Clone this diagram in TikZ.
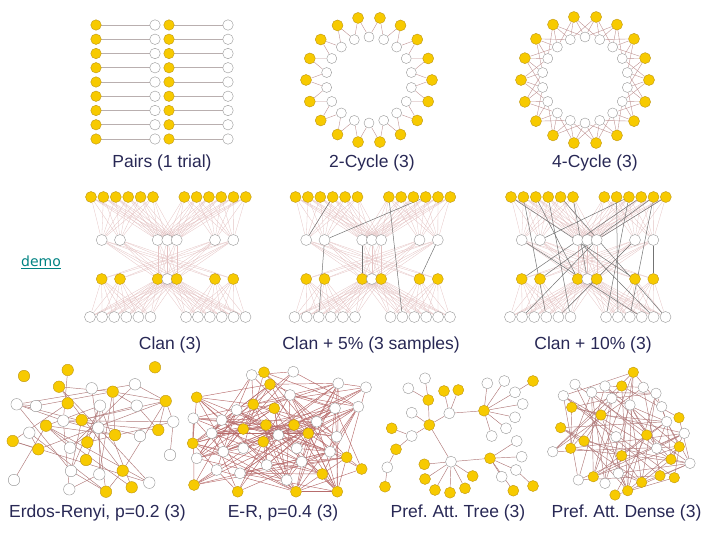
\documentclass[tikz,border=0pt]{standalone}
\usepackage{fontspec}
\setmainfont{Liberation Sans}
\newfontfamily\demofont{DejaVu Sans}
\frenchspacing

\definecolor{yelfill}{RGB}{247,202,0}
\definecolor{yelline}{RGB}{190,150,20}
\definecolor{whtline}{RGB}{150,150,150}
\definecolor{edgecol}{RGB}{175,120,120}
\definecolor{clancol}{RGB}{228,195,195}
\definecolor{pairline}{RGB}{185,175,175}
\definecolor{capcol}{RGB}{40,40,85}
\definecolor{democol}{RGB}{0,130,130}

\pgfdeclarelayer{edges}
\pgfsetlayers{edges,main}

\tikzset{
  yel/.style={circle,draw=yelline,fill=yelfill,minimum size=11pt,inner sep=0pt,line width=0.4pt},
  wht/.style={circle,draw=whtline,fill=white,minimum size=11pt,inner sep=0pt,line width=0.4pt},
  pairedge/.style={draw=pairline,line width=0.6pt},
  cycedge/.style={draw=edgecol!80,line width=0.4pt},
  clanedge/.style={draw=clancol,line width=0.3pt},
  darkedge/.style={draw=black!55,line width=0.5pt},
  rndedge/.style={draw=edgecol,line width=0.45pt},
  caption/.style={font=\fontsize{17.5}{20}\selectfont,text=capcol},
}

\begin{document}
\begin{tikzpicture}[x=1pt,y=-1pt]
\useasboundingbox (0,0) rectangle (720,540);

% pairs
\foreach \r in {0,...,8} {
  \pgfmathsetmacro\yy{25+14.25*\r}
  \node[yel,minimum size=10.5pt] (pa\r) at (96,\yy) {};
  \node[wht,minimum size=10.5pt] (pb\r) at (155,\yy) {};
  \node[yel,minimum size=10.5pt] (pc\r) at (169,\yy) {};
  \node[wht,minimum size=10.5pt] (pd\r) at (228,\yy) {};
  \begin{pgfonlayer}{edges}
  \draw[pairedge] (pa\r) -- (pb\r);
  \draw[pairedge] (pc\r) -- (pd\r);
  \end{pgfonlayer}
}

% 2-cycle and 4-cycle
\begin{scope}[shift={(369,80)}]
\foreach \k in {0,...,17} {
  \node[yel] (ty\k) at (\k*20:63) {};
  \node[wht,minimum size=10pt] (tw\k) at (\k*20+10:43) {};
}
\end{scope}
\begin{scope}[shift={(585,80)}]
\foreach \k in {0,...,17} {
  \node[yel] (fy\k) at (\k*20:64) {};
  \node[wht,minimum size=10pt] (fw\k) at (\k*20+10:43) {};
}
\end{scope}
\begin{pgfonlayer}{edges}
\foreach \k in {0,...,17} {
  \pgfmathtruncatemacro\km{mod(\k+17,18)}
  \pgfmathtruncatemacro\kp{mod(\k+1,18)}
  \pgfmathtruncatemacro\kmm{mod(\k+16,18)}
  \draw[cycedge] (ty\k) -- (tw\k);
  \draw[cycedge] (ty\k) -- (tw\km);
  \draw[cycedge] (fy\k) -- (fw\k);
  \draw[cycedge] (fy\k) -- (fw\km);
  \draw[cycedge] (fy\k) -- (fw\kp);
  \draw[cycedge] (fy\k) -- (fw\kmm);
}
\end{pgfonlayer}

% clans
\foreach \c/\dx in {a/0,b/204.5,c/420} {
\begin{scope}[xshift=\dx]
  \foreach \i in {1,...,6} {
    \node[yel] (\c t\i) at (91+12.4*\i-12.4,197) {};
    \node[wht] (\c b\i) at (90+12.1*\i-12.1,317) {};
  }
  \foreach \i in {7,...,12} {
    \node[yel] (\c t\i) at (184.3+12.3*\i-86.1,197) {};
    \node[wht] (\c b\i) at (186+11.9*\i-83.3,317) {};
  }
  \foreach \i/\x in {1/101.7,2/120,3/157.7,4/167.3,5/176.7,6/215,7/233.3} {
    \node[wht] (\c m\i) at (\x,240) {};
  }
  \foreach \i/\x/\s in {1/101.7/yel,2/120/yel,3/157.7/yel,4/167.3/wht,5/176.7/yel,6/215/yel,7/233.3/yel} {
    \node[\s] (\c l\i) at (\x,279) {};
  }
  \begin{pgfonlayer}{edges}
  \foreach \i in {1,...,6} \foreach \j in {1,...,5} \draw[clanedge] (\c t\i) -- (\c m\j);
  \foreach \i in {7,...,12} \foreach \j in {3,...,7} \draw[clanedge] (\c t\i) -- (\c m\j);
  \foreach \i in {1,2} \foreach \j in {3,...,7} \draw[clanedge] (\c m\i) -- (\c l\j);
  \foreach \i in {6,7} \foreach \j in {1,...,5} \draw[clanedge] (\c m\i) -- (\c l\j);
  \foreach \i in {3,4,5} \foreach \j in {3,4,5} \draw[clanedge] (\c m\i) -- (\c l\j);
  \foreach \i in {1,...,5} \foreach \j in {1,...,6} \draw[clanedge] (\c l\i) -- (\c b\j);
  \foreach \i in {3,...,7} \foreach \j in {7,...,12} \draw[clanedge] (\c l\i) -- (\c b\j);
  \end{pgfonlayer}
\end{scope}
}
\begin{pgfonlayer}{edges}
% clan + 5%
\foreach \u/\v in {bm2/bb3,bt7/bb8,bm3/bl3,bm7/bl6,bm2/bt10,bt4/bm1} \draw[darkedge] (\u) -- (\v);
% clan + 10%
\foreach \u/\v in {ct2/cb4,ct3/cl3,ct4/cb6,ct8/cb8,ct10/cl1,ct11/cb9,ct12/cm5,cm1/cb10,cm2/ct9,cm6/cb5,cl4/ct6,cm7/cl7,ct5/cb12,cl2/ct11,cm3/cb11,cb7/ct9,ct1/cl6,cm5/cb2}
  \draw[darkedge] (\u) -- (\v);
\end{pgfonlayer}

% Erdos-Renyi p=0.2
\foreach \n/\x/\y/\s in {1/24/376/yel,2/67.7/370/yel,3/59/386.7/yel,4/67.7/403.3/yel,5/155/367.3/yel,6/112.7/391.7/yel,
  7/165.7/401/yel,8/46/425.7/yel,9/81.7/420/yel,10/12.7/441/yel,11/38.3/449.3/yel,12/87.3/442.3/yel,13/115/435/yel,
  14/158.3/430/yel,15/86/460/yel,16/122.7/470.7/yel,17/106/491.7/yel,18/131.7/487.3/yel,
  19/16.7/404.3/wht,20/36/406/wht,21/91.7/388.3/wht,22/135/384.3/wht,23/136.7/405.7/wht,24/100/405.7/wht,
  25/63.3/420.7/wht,26/98.3/427.7/wht,27/29.3/432.7/wht,28/70/447.7/wht,29/140/436/wht,30/173.3/421.7/wht,
  31/170/455/wht,32/71/471/wht,33/99.3/474.3/wht,34/149.3/482.7/wht,35/69.3/489.3/wht,36/14/480/wht}
  \node[\s,minimum size=11.5pt] (ea\n) at (\x,\y) {};

% E-R p=0.4
\foreach \n/\x/\y/\s in {1/264/372.3/yel,2/270/384.3/yel,3/196.7/397.3/yel,4/253.3/404.3/yel,5/274.3/408.3/yel,
  6/243.3/429/yel,7/266/425/yel,8/294/425/yel,9/308.3/433.3/yel,10/263.3/441.7/yel,11/192.7/443.3/yel,
  12/346.7/457.3/yel,13/361.7/469/yel,14/322.3/474/yel,15/194/485/yel,16/237.7/491.7/yel,17/296/491.7/yel,
  18/337.3/491.7/yel,19/251.7/375/wht,20/293.3/371.7/wht,21/338.3/383.3/wht,22/366/387.3/wht,23/290/395/wht,
  24/236.7/410/wht,25/335/408.3/wht,26/358.3/406.7/wht,27/193.3/418.3/wht,28/221.7/420/wht,29/316.7/421.7/wht,
  30/336.7/436.7/wht,31/211.7/433.3/wht,32/278.3/435/wht,33/223.3/451.7/wht,34/243.3/448.3/wht,
  35/196.7/458.3/wht,36/296.7/448.3/wht,37/216.7/470/wht,38/240/473.3/wht,39/266.7/465/wht,40/286.7/480/wht,
  41/301.7/461.7/wht,42/330/451.7/wht}
  \node[\s,minimum size=11pt] (eb\n) at (\x,\y) {};

% Pref. Att. Tree
\foreach \n/\x/\y/\s in {A/449.3/413.3/wht,B/484/410.7/yel,C/429.3/425/yel,D/451/461.7/wht,E/490/458.3/yel,
  a1/444/391/yel,a2/458.3/390/yel,c1/411.7/412.7/wht,c2/428.3/400/yel,c3/408.3/388.3/wht,c4/425/378.3/wht,
  c5/411.7/436/wht,c6/391.7/428.3/yel,c7/396/449.3/yel,c8/387.3/467.3/wht,c9/385/486.7/yel,
  b1/487.3/383.3/wht,b2/504.3/381/wht,b3/515/392.3/wht,b4/522.7/404/wht,b5/515/417.3/wht,b6/506/428.3/wht,
  b7/491.7/436/wht,b8/533/381/yel,d1/424.3/464.3/yel,d2/425/479/yel,d3/435/490/yel,d4/450/492.7/yel,
  d5/465/488.3/yel,d6/472.7/476/yel,e1/516.7/441/wht,e2/521.7/456.7/wht,e3/516/470/wht,e4/501.7/476.7/wht,
  e5/513.3/490.7/yel,e6/533/486/yel}
  \node[\s] (pt\n) at (\x,\y) {};
\begin{pgfonlayer}{edges}
\foreach \u/\v in {A/C,A/B,A/a1,A/a2,C/c1,C/c2,c2/c3,c2/c4,C/c5,c5/c6,c5/c7,c7/c8,c8/c9,C/D,D/E,
  D/d1,D/d2,D/d3,D/d4,D/d5,D/d6,B/b1,B/b2,B/b3,B/b4,B/b5,B/b6,B/b7,b3/b8,E/e1,E/e2,E/e3,E/e4,E/e5,e3/e6}
  \draw[rndedge] (pt\u) -- (pt\v);
\end{pgfonlayer}

% Pref. Att. Dense
\foreach \n/\x/\y/\s in {1/633.3/372.3/yel,2/621.7/386/yel,3/571.7/407.3/yel,4/601/415/yel,5/560.7/427.7/yel,
  6/679/417.7/yel,7/646.7/435/yel,8/584/441/yel,9/570.7/448.3/yel,10/679.3/446.7/yel,11/621.7/455.7/yel,
  12/671/459.3/yel,13/593.3/476.7/yel,14/660/475.7/yel,15/674.3/477.7/yel,16/641.7/482.3/yel,17/627.7/490.7/yel,
  18/615/495/yel,19/575/384.3/wht,20/563.3/395.7/wht,21/591.7/392.3/wht,22/605/386/wht,23/611.7/398.3/wht,
  24/643.3/387.3/wht,25/656/393.3/wht,26/661.7/406.7/wht,27/630/405/wht,28/666.7/421.7/wht,29/684.3/433.3/wht,
  30/616/436.7/wht,31/552.7/451.7/wht,32/656.7/448.3/wht,33/690/463.3/wht,34/618.3/473.3/wht,35/578.3/480/wht,
  36/605/483.3/wht}
  \node[\s,minimum size=10.5pt] (pd\n) at (\x,\y) {};

\begin{pgfonlayer}{edges}
\pgfmathsetseed{4}
\foreach \i in {1,...,35} {
  \pgfmathtruncatemacro\nx{\i+1}
  \foreach \j in {\nx,...,36} {
    \pgfmathtruncatemacro\hit{rnd<0.085}
    \ifnum\hit=1 \draw[rndedge] (ea\i) -- (ea\j); \fi
    \pgfmathtruncatemacro\hit{rnd<0.13}
    \ifnum\hit=1 \draw[rndedge] (pd\i) -- (pd\j); \fi
  }
}
\foreach \i in {1,...,41} {
  \pgfmathtruncatemacro\nx{\i+1}
  \foreach \j in {\nx,...,42} {
    \pgfmathtruncatemacro\hit{rnd<0.2}
    \ifnum\hit=1 \draw[rndedge,draw=edgecol!90!red] (eb\i) -- (eb\j); \fi
  }
}
\end{pgfonlayer}

% captions
\node[caption] (cpairs) at (162,163) {Pairs (1 trial)};
\node[caption] (ctwo) at (372,163) {2-Cycle (3)};
\node[caption] (cfour) at (595,163) {4-Cycle (3)};
\node[caption] (cclan) at (170,345) {Clan (3)};
\node[caption] (cclanb) at (371,345) {Clan + 5\% (3 samples)};
\node[caption] (cclanc) at (593,345) {Clan + 10\% (3)};
\node[caption] (cer) at (97.5,513) {Erdos-Renyi, p=0.2 (3)};
\node[caption] (cerb) at (283,513) {E-R, p=0.4 (3)};
\node[caption] (ctree) at (458,513) {Pref. Att. Tree (3)};
\node[caption] (cdense) at (626.5,513) {Pref. Att. Dense (3)};
\node[font=\demofont\fontsize{14}{16}\selectfont,text=democol] (demo) at (41,262) {\underline{demo}};

\end{tikzpicture}
\end{document}
